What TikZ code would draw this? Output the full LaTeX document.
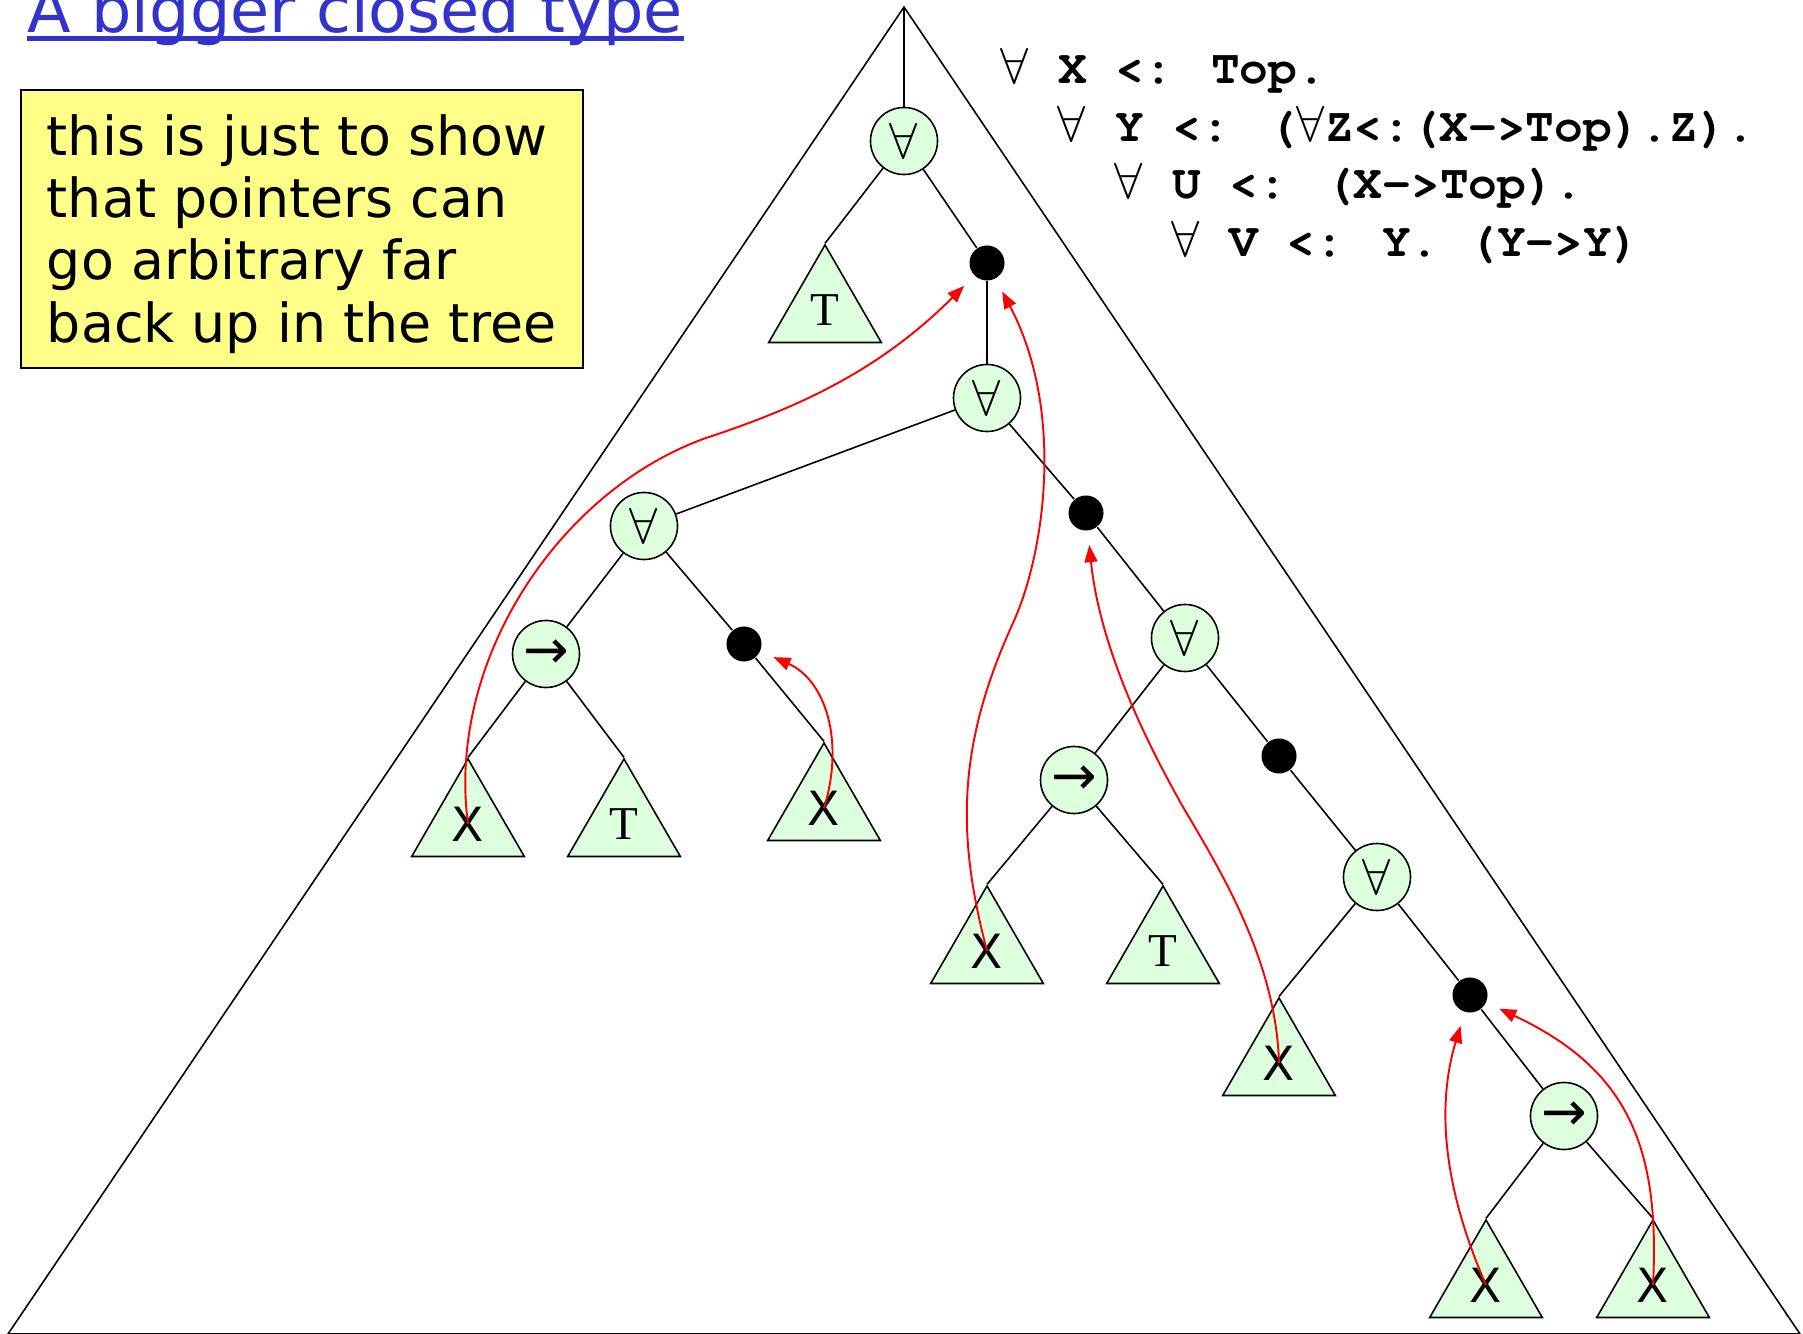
\documentclass[tikz,border=0pt]{standalone}
\usepackage{fontspec}
\setmainfont{DejaVu Sans}
\newfontfamily\codefont{TeX Gyre Cursor}
\newfontfamily\leaffont{Liberation Serif}
\usetikzlibrary{arrows.meta,shapes.geometric}

\definecolor{leafgreen}{RGB}{221,255,221}
\definecolor{noteyellow}{RGB}{255,255,136}
\definecolor{titleblue}{RGB}{51,51,204}

\newcommand{\fa}{\makebox[0.6em][l]{$\forall$}}
\newcommand{\fun}{\raisebox{-0.5pt}{\fontsize{15.5}{16}\selectfont →}}

\begin{document}
\begin{tikzpicture}[x=0.01cm, y=-0.01cm, line width=0.45pt,
	bind/.style={circle, draw, fill=leafgreen, minimum size=0.67cm, inner sep=0pt, font=\fontsize{13.6}{16}\selectfont},
	hole/.style={circle, fill=black, minimum size=0.35cm, inner sep=0pt},
	leaf/.style={regular polygon, regular polygon sides=3, draw, fill=leafgreen, minimum size=1.30cm, inner sep=0pt, font=\fontsize{13.4}{16}\selectfont},
	ptr/.style={red, line width=0.55pt, -{Triangle[length=1.7mm,width=1.3mm]}, shorten >=0.14cm},
	code/.style={anchor=base west, inner sep=0pt, font=\codefont\bfseries\fontsize{13.6}{16}\selectfont},
	note/.style={draw, fill=noteyellow, anchor=north west, align=left, minimum width=5.62cm, minimum height=2.78cm, inner sep=0pt, font=\fontsize{15.3}{17.7}\selectfont}]
	\useasboundingbox (0,0) rectangle (1803,1334);
	% the whole type
	\coordinate (top) at (904,7);
	\coordinate (lft) at (8,1334);
	\coordinate (rgt) at (1800,1334);
	\draw (top) -- (lft) -- (rgt) -- cycle;
	\node[anchor=base west, inner sep=0pt, text=titleblue, font=\fontsize{18.1}{20}\selectfont] (ttl) at (27,33) {A bigger closed type};
	\draw[titleblue, line width=1.3pt] ([yshift=-0.055cm]ttl.base west) -- ([yshift=-0.055cm]ttl.base east);
	\node[note] (note) at (20,89) {\rule{0pt}{14.5pt}this is just to show\\that pointers can\\go arbitrary far\\back up in the tree};
	\node[code] (ln1) at (1000,84) {\fa{} X <: Top.};
	\node[code] (ln2) at (1057,142) {\fa{} Y <: ($\forall$Z<:(X->Top).Z).};
	\node[code] (ln3) at (1114,199) {\fa{} U <: (X->Top).};
	\node[code] (ln4) at (1171,257) {\fa{} V <: Y. (Y->Y)};
	% tree
	\node[bind] (fa1) at (904,141) {$\forall$};
	\node[hole] (d1) at (987,263) {};
	\node[leaf] (t1) at (825,310) {\leaffont T};
	\node[bind] (fa2) at (987,398) {$\forall$};
	\node[bind] (fa3) at (644,526) {$\forall$};
	\node[hole] (d2) at (1086,513) {};
	\node[bind] (ar1) at (546,654) {\fun};
	\node[hole] (d3) at (744,644) {};
	\node[leaf] (x1) at (468,824) {X};
	\node[leaf] (t2) at (624,824) {\leaffont T};
	\node[leaf] (x2) at (824,808) {X};
	\node[bind] (fa4) at (1185,638) {$\forall$};
	\node[bind] (ar2) at (1074,780) {\fun};
	\node[hole] (d4) at (1279,756) {};
	\node[leaf] (x3) at (987,951) {X};
	\node[leaf] (t3) at (1163,951) {\leaffont T};
	\node[bind] (fa5) at (1377,877) {$\forall$};
	\node[hole] (d5) at (1470,995) {};
	\node[leaf] (x4) at (1279,1063) {X};
	\node[bind] (ar3) at (1564,1116) {\fun};
	\node[leaf] (x5) at (1486,1285) {X};
	\node[leaf] (x6) at (1653,1285) {X};
	\draw (top) -- (fa1);
	\draw (fa1) -- (t1.corner 1);
	\draw (fa1) -- (d1);
	\draw (d1) -- (fa2);
	\draw (fa2) -- (fa3);
	\draw (fa2) -- (d2);
	\draw (d2) -- (fa4);
	\draw (fa3) -- (ar1);
	\draw (fa3) -- (d3);
	\draw (d3) -- (x2.corner 1);
	\draw (ar1) -- (x1.corner 1);
	\draw (ar1) -- (t2.corner 1);
	\draw (fa4) -- (ar2);
	\draw (fa4) -- (d4);
	\draw (d4) -- (fa5);
	\draw (ar2) -- (x3.corner 1);
	\draw (ar2) -- (t3.corner 1);
	\draw (fa5) -- (x4.corner 1);
	\draw (fa5) -- (d5);
	\draw (d5) -- (ar3);
	\draw (ar3) -- (x5.corner 1);
	\draw (ar3) -- (x6.corner 1);
	% back pointers
	\draw[ptr] (x1.center) .. controls (446,660) and (560,490) .. (706,438) .. controls (800,407) and (880,370) .. (d1);
	\draw[ptr] (x2.center) .. controls (845,740) and (825,680) .. (d3);
	\draw[ptr] (x3.center) .. controls (958,840) and (955,750) .. (1013,623) .. controls (1045,553) and (1065,410) .. (d1);
	\draw[ptr] (x4.center) .. controls (1276,960) and (1220,870) .. (1183,807) .. controls (1149,747) and (1100,650) .. (d2);
	\draw[ptr] (x5.center) .. controls (1440,1180) and (1438,1100) .. (d5);
	\draw[ptr] (x6.center) .. controls (1660,1150) and (1630,1070) .. (d5);
\end{tikzpicture}
\end{document}
